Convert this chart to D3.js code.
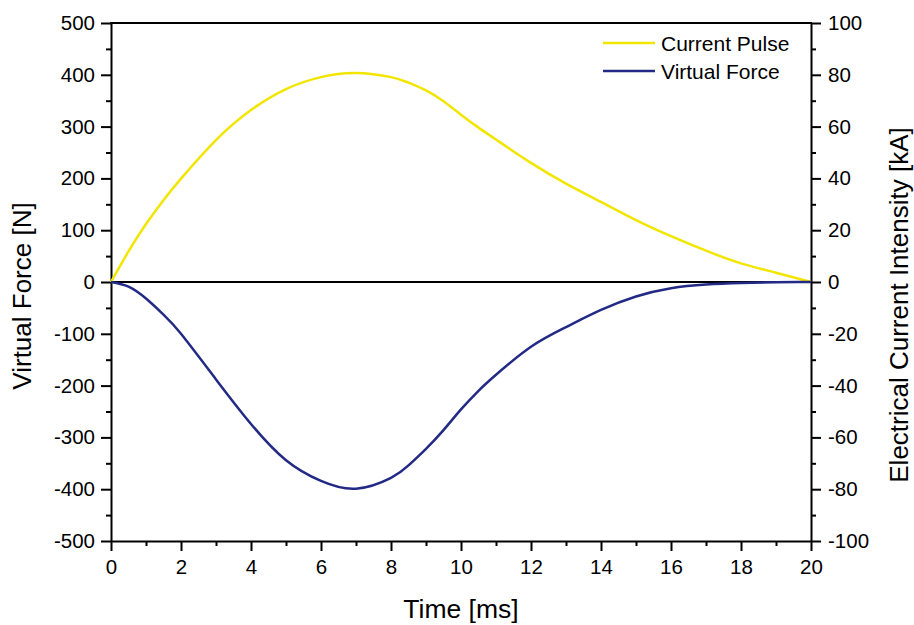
<!DOCTYPE html>
<html>
<head>
<meta charset="utf-8">
<script src="https://cdn.jsdelivr.net/npm/d3@7"></script>
<style>
  html, body { margin: 0; padding: 0; background: #fff; }
  svg { display: block; font-family: "Liberation Sans", Arial, sans-serif; }
</style>
</head>
<body>
<svg id="chart" width="914" height="625"></svg>
<script>
// Time axis samples [ms]
const timeMs = [0, 0.5, 1, 1.5, 2, 3, 4, 5, 6, 7, 8, 8.5, 9, 9.5, 10, 10.5, 11, 12, 13, 14, 15, 16, 17, 18, 19, 20];
// Current pulse [kA]
const currentKA = [0, 11.8, 22.4, 31.6, 39.9, 54.8, 66.4, 74.5, 79.1, 80.7, 79.1, 77.0, 74.0, 69.8, 64.6, 59.6, 55.0, 46.0, 38.0, 30.9, 23.9, 17.7, 12.1, 7.2, 3.6, 0];
// Virtual force [N]
const forceN = [0, -9, -32, -63, -100, -188, -274, -344, -384, -399, -378, -354, -322, -286, -246, -210, -179, -125, -87, -54, -28, -12, -5, -2, -0.5, 0];

const leftTicks = [-500, -400, -300, -200, -100, 0, 100, 200, 300, 400, 500];
const rightTicks = [-100, -80, -60, -40, -20, 0, 20, 40, 60, 80, 100];
const xTicks = [0, 2, 4, 6, 8, 10, 12, 14, 16, 18, 20];

const seriesNames = ["Current Pulse", "Virtual Force"];
const seriesColors = ["#f2e600", "#232a85"];

const svg = d3.select("#chart");
const m = { left: 111, right: 811, top: 23, bottom: 541 };

const x = d3.scaleLinear().domain([0, 20]).range([m.left, m.right]);
const yL = d3.scaleLinear().domain([-500, 500]).range([m.bottom, m.top]);
const yR = d3.scaleLinear().domain([-100, 100]).range([m.bottom, m.top]);

const fontTick = 20.5;
const fmt = d => String(d); // plain hyphen for negatives

function styleAxis(g) {
  g.selectAll("path.domain").attr("stroke", "#000").attr("stroke-width", 2);
  g.selectAll(".tick line").attr("stroke", "#000").attr("stroke-width", 2);
  g.selectAll(".tick text").attr("font-size", fontTick).attr("fill", "#000")
    .attr("font-family", "Liberation Sans, Arial, sans-serif");
}

// Minor ticks (between labelled ticks)
function minorTicks(values) {
  const out = [];
  for (let i = 0; i < values.length - 1; i++) out.push((values[i] + values[i + 1]) / 2);
  return out;
}
function styleMinor(g) {
  g.select("path.domain").remove();
  g.selectAll("line").attr("stroke", "#000").attr("stroke-width", 2);
}

// Bottom axis
const gx = svg.append("g").attr("transform", `translate(0,${m.bottom})`)
  .call(d3.axisBottom(x).tickValues(xTicks).tickFormat(fmt).tickSize(10).tickPadding(8).tickSizeOuter(0));
styleAxis(gx);
svg.append("g").attr("transform", `translate(0,${m.bottom})`)
  .call(d3.axisBottom(x).tickValues(minorTicks(xTicks)).tickFormat("").tickSize(5).tickSizeOuter(0))
  .call(styleMinor);

// Left axis
const gl = svg.append("g").attr("transform", `translate(${m.left},0)`)
  .call(d3.axisLeft(yL).tickValues(leftTicks).tickFormat(fmt).tickSize(10).tickPadding(6).tickSizeOuter(0));
styleAxis(gl);
svg.append("g").attr("transform", `translate(${m.left},0)`)
  .call(d3.axisLeft(yL).tickValues(minorTicks(leftTicks)).tickFormat("").tickSize(5).tickSizeOuter(0))
  .call(styleMinor);

// Right axis
const gr = svg.append("g").attr("transform", `translate(${m.right},0)`)
  .call(d3.axisRight(yR).tickValues(rightTicks).tickFormat(fmt).tickSize(10).tickPadding(7).tickSizeOuter(0));
styleAxis(gr);
svg.append("g").attr("transform", `translate(${m.right},0)`)
  .call(d3.axisRight(yR).tickValues(minorTicks(rightTicks)).tickFormat("").tickSize(5).tickSizeOuter(0))
  .call(styleMinor);

// Top border
svg.append("line").attr("x1", m.left - 1).attr("x2", m.right + 1)
  .attr("y1", m.top).attr("y2", m.top).attr("stroke", "#000").attr("stroke-width", 2);

// Zero reference line
svg.append("line").attr("x1", m.left).attr("x2", m.right)
  .attr("y1", yL(0)).attr("y2", yL(0)).attr("stroke", "#000").attr("stroke-width", 2);

// Curves (smooth cubic through the sampled values)
const lineI = d3.line().x((d, i) => x(timeMs[i])).y(d => yR(d)).curve(d3.curveNatural);
const lineF = d3.line().x((d, i) => x(timeMs[i])).y(d => yL(d)).curve(d3.curveNatural);

svg.append("path").datum(currentKA).attr("d", lineI)
  .attr("fill", "none").attr("stroke", seriesColors[0]).attr("stroke-width", 2.5);
svg.append("path").datum(forceN).attr("d", lineF)
  .attr("fill", "none").attr("stroke", seriesColors[1]).attr("stroke-width", 2.5);

// Legend
const legend = svg.append("g");
seriesNames.forEach((name, i) => {
  const yy = 43 + i * 28;
  legend.append("line").attr("x1", 603).attr("x2", 655).attr("y1", yy).attr("y2", yy)
    .attr("stroke", seriesColors[i]).attr("stroke-width", 2.5);
  legend.append("text").attr("x", 661).attr("y", yy).attr("dy", "0.36em")
    .attr("font-size", 21).attr("fill", "#000").text(name);
});

// Axis titles
svg.append("text").attr("x", (m.left + m.right) / 2).attr("y", 618)
  .attr("text-anchor", "middle").attr("font-size", 26.5).attr("fill", "#000").text("Time [ms]");
svg.append("text").attr("transform", `translate(31,${(m.top + m.bottom) / 2 + 14}) rotate(-90)`)
  .attr("text-anchor", "middle").attr("font-size", 26).attr("fill", "#000").text("Virtual Force [N]");
svg.append("text").attr("transform", `translate(908,${(m.top + m.bottom) / 2 + 23}) rotate(-90)`)
  .attr("text-anchor", "middle").attr("font-size", 26).attr("fill", "#000").text("Electrical Current Intensity [kA]");
</script>
</body>
</html>
